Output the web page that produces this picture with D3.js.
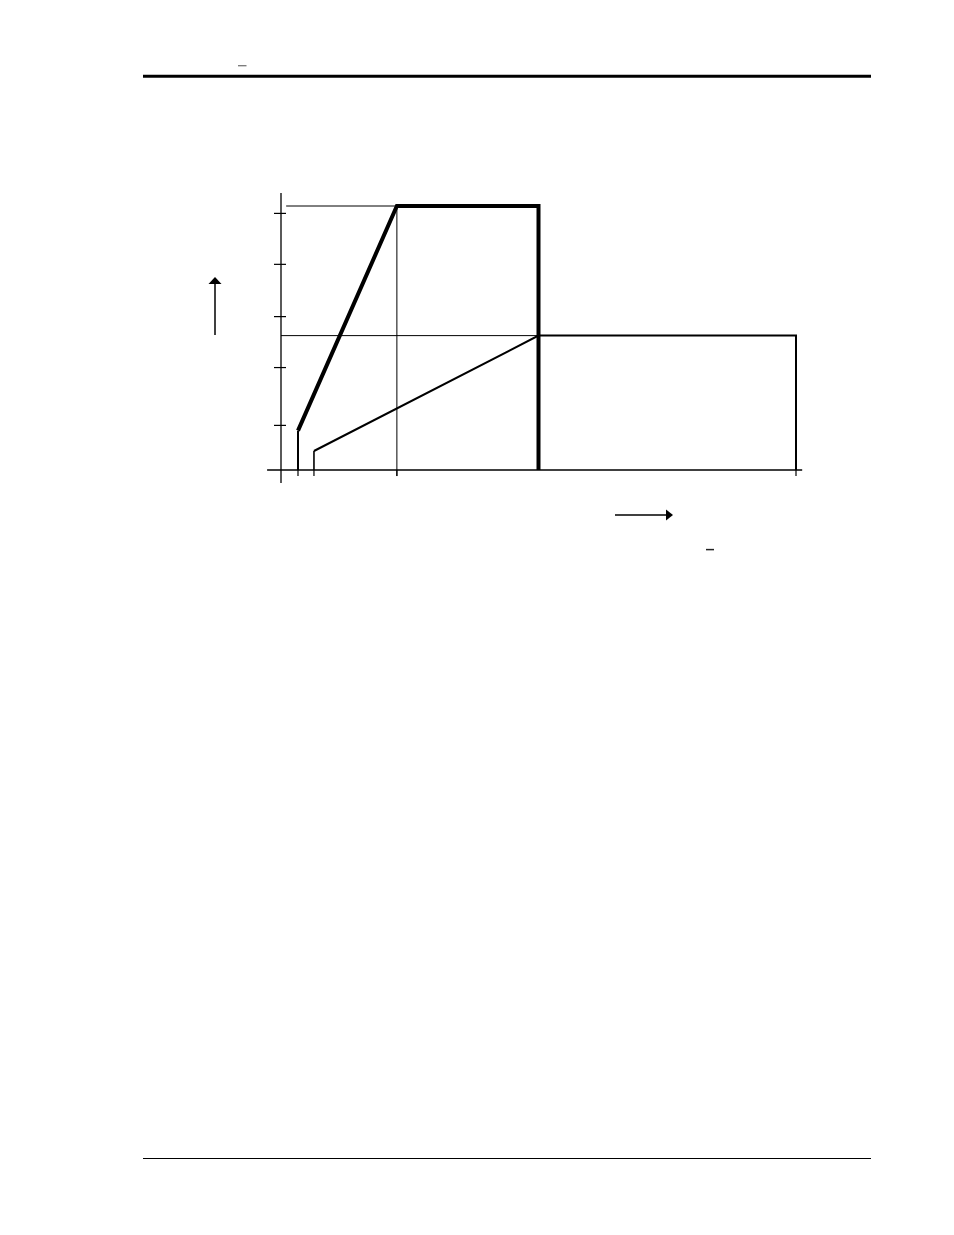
<!DOCTYPE html>
<html>
<head>
<meta charset="utf-8">
<title>Characteristic</title>
<script src="https://cdn.jsdelivr.net/npm/d3@7"></script>
<style>
    body { margin: 0; background: #fff; }
    svg { display: block; }
</style>
</head>
<body>
<div id="page"></div>
<script>
'use strict';

// tick positions on the axes (chart units)
const xTicks = [3.3, 6.4, 22.5, 100];
const yTicks = [16.9, 38.8, 58.1, 77.9, 97.2];

// heavy curve (first segment is the thin start stub)
const upperX = [3.3, 3.3, 22.5, 50, 50];
const upperY = [0, 14.9, 100, 100, 0];

// lighter curve (first segment is the thin start stub)
const lowerX = [6.4, 6.4, 50, 100, 100];
const lowerY = [0, 7.2, 50.9, 50.9, 0];

// thin guide lines [x1, y1, x2, y2]
const guideLines = [
    [1, 100, 22.5, 100],
    [0, 50.9, 50, 50.9],
    [22.5, 100, 22.5, -2.3]
];

class PageChart {

    constructor(divId, width, height) {
        this.width = width;
        this.height = height;
        this.svg = d3.select('#' + divId).append('svg')
            .attr('width', width)
            .attr('height', height);

        this.x = d3.scaleLinear().domain([0, 100]).range([281, 796]);
        this.y = d3.scaleLinear().domain([0, 100]).range([470, 206]);
    }

    drawPage() {
        // header rule
        this.svg.append('line')
            .attr('x1', 143).attr('x2', 871)
            .attr('y1', 76.3).attr('y2', 76.3)
            .style('stroke', '#000')
            .style('stroke-width', 3);

        // small mark in the header
        this.svg.append('line')
            .attr('x1', 238).attr('x2', 246.5)
            .attr('y1', 65.7).attr('y2', 65.7)
            .style('stroke', '#777')
            .style('stroke-width', 1.3);

        // footer rule
        this.svg.append('line')
            .attr('x1', 143).attr('x2', 871)
            .attr('y1', 1158.5).attr('y2', 1158.5)
            .style('stroke', '#000')
            .style('stroke-width', 1.2);
    }

    drawCurve(g, xs, ys, stubWidth, width) {
        let x = this.x;
        let y = this.y;
        let points = d3.zip(xs, ys);

        let line = d3.line()
            .x(function (d) { return x(d[0]); })
            .y(function (d) { return y(d[1]); });

        g.append('path')
            .datum(points.slice(0, 2))
            .attr('d', line)
            .style('fill', 'none')
            .style('stroke', '#000')
            .style('stroke-width', stubWidth);

        g.append('path')
            .datum(points.slice(1))
            .attr('d', line)
            .style('fill', 'none')
            .style('stroke', '#000')
            .style('stroke-width', width)
            .style('stroke-linejoin', 'miter');
    }

    render() {
        let x = this.x;
        let y = this.y;
        let g = this.svg.append('g').attr('class', 'chart');

        this.drawPage();

        // guides
        g.selectAll('.guide').data(guideLines).enter().append('line')
            .attr('class', 'guide')
            .attr('x1', function (d) { return x(d[0]); })
            .attr('y1', function (d) { return y(d[1]); })
            .attr('x2', function (d) { return x(d[2]); })
            .attr('y2', function (d) { return y(d[3]); })
            .style('stroke', '#000')
            .style('stroke-width', 1);

        // axes
        g.append('line')
            .attr('x1', x(0)).attr('x2', x(0))
            .attr('y1', y(104.9)).attr('y2', y(-4.9))
            .style('stroke', '#000')
            .style('stroke-width', 1.3);

        g.append('line')
            .attr('x1', x(-2.7)).attr('x2', x(101.2))
            .attr('y1', y(0)).attr('y2', y(0))
            .style('stroke', '#000')
            .style('stroke-width', 1.3);

        g.selectAll('.y-tick').data(yTicks).enter().append('line')
            .attr('class', 'y-tick')
            .attr('x1', x(0) - 7).attr('x2', x(0) + 5)
            .attr('y1', function (d) { return y(d); })
            .attr('y2', function (d) { return y(d); })
            .style('stroke', '#000')
            .style('stroke-width', 1.2);

        g.selectAll('.x-tick').data(xTicks).enter().append('line')
            .attr('class', 'x-tick')
            .attr('x1', function (d) { return x(d); })
            .attr('x2', function (d) { return x(d); })
            .attr('y1', y(0)).attr('y2', y(0) + 6)
            .style('stroke', '#000')
            .style('stroke-width', 1.2);

        this.drawCurve(g, lowerX, lowerY, 1.6, 2);
        this.drawCurve(g, upperX, upperY, 2, 4);

        // direction arrows
        g.append('line')
            .attr('x1', 215).attr('x2', 215)
            .attr('y1', 335).attr('y2', 283)
            .style('stroke', '#000')
            .style('stroke-width', 1.5);
        g.append('path')
            .attr('d', 'M215,277L221.5,284L208.5,284Z')
            .style('fill', '#000');

        g.append('line')
            .attr('x1', 615).attr('x2', 667)
            .attr('y1', 515).attr('y2', 515)
            .style('stroke', '#000')
            .style('stroke-width', 1.5);
        g.append('path')
            .attr('d', 'M673,515L666,509.5L666,520.5Z')
            .style('fill', '#000');

        // small mark under the x arrow
        g.append('line')
            .attr('x1', 706).attr('x2', 714)
            .attr('y1', 549.6).attr('y2', 549.6)
            .style('stroke', '#222')
            .style('stroke-width', 1.5);
    }
}

let chart = new PageChart('page', 954, 1235);
chart.render();
</script>
</body>
</html>
